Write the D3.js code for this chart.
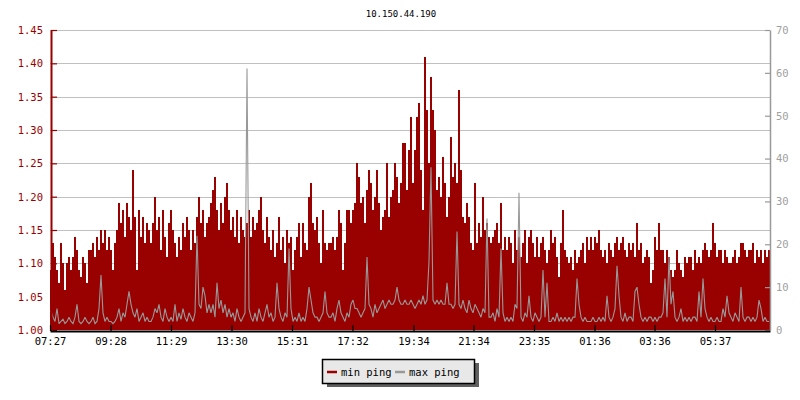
<!DOCTYPE html>
<html>
<head>
<meta charset="utf-8">
<script src="https://cdn.jsdelivr.net/npm/d3@7"></script>
<style>
  html, body { margin: 0; padding: 0; background: #fff; }
  svg { display: block; }
  text { font-family: "DejaVu Sans Mono", "Liberation Mono", monospace; }
</style>
</head>
<body>
<svg id="chart" width="800" height="400"></svg>
<script>
// ---- data ----
const title = "10.150.44.190";
const startTime = "07:27";
const stepMinutes = 4;
const xTickLabels = ["07:27","09:28","11:29","13:30","15:31","17:32","19:34","21:34","23:35","01:36","03:36","05:37"];
const leftTicks = [1.00,1.05,1.10,1.15,1.20,1.25,1.30,1.35,1.40,1.45];
const rightTicks = [0,10,20,30,40,50,60,70];
const seriesNames = ["min ping", "max ping"];

// min ping (left axis, ms)
const minPing = [
1.09,1.13,1.11,1.09,1.07,1.13,1.10,1.06,1.10,1.11,
1.09,1.11,1.14,1.12,1.09,1.08,1.11,1.10,1.07,1.12,
1.12,1.13,1.11,1.14,1.12,1.15,1.13,1.15,1.12,1.14,
1.12,1.09,1.13,1.15,1.19,1.16,1.18,1.14,1.19,1.17,
1.15,1.24,1.17,1.09,1.18,1.14,1.17,1.13,1.16,1.15,
1.13,1.16,1.20,1.15,1.17,1.12,1.18,1.14,1.11,1.16,
1.18,1.15,1.13,1.11,1.14,1.12,1.16,1.14,1.17,1.15,
1.12,1.15,1.13,1.17,1.20,1.16,1.18,1.14,1.16,1.17,
1.19,1.21,1.23,1.18,1.15,1.19,1.16,1.20,1.22,1.18,
1.15,1.17,1.14,1.18,1.13,1.17,1.15,1.14,1.16,1.18,
1.14,1.17,1.15,1.16,1.18,1.20,1.15,1.13,1.17,1.14,
1.12,1.15,1.11,1.13,1.17,1.12,1.14,1.10,1.15,1.13,
1.14,1.09,1.12,1.14,1.16,1.11,1.16,1.13,1.12,1.20,
1.22,1.16,1.15,1.17,1.13,1.10,1.18,1.13,1.12,1.13,
1.13,1.14,1.12,1.14,1.18,1.16,1.09,1.13,1.18,1.18,
1.16,1.18,1.19,1.25,1.23,1.19,1.20,1.16,1.21,1.24,
1.22,1.18,1.20,1.24,1.19,1.15,1.17,1.18,1.25,1.17,
1.20,1.21,1.25,1.23,1.19,1.22,1.28,1.28,1.21,1.27,
1.32,1.22,1.27,1.32,1.34,1.24,1.18,1.41,1.33,1.25,
1.38,1.33,1.30,1.21,1.23,1.20,1.26,1.22,1.17,1.20,
1.29,1.23,1.25,1.22,1.36,1.24,1.17,1.16,1.19,1.17,
1.13,1.12,1.22,1.13,1.16,1.14,1.20,1.15,1.16,1.14,
1.13,1.14,1.15,1.16,1.13,1.19,1.12,1.14,1.12,1.14,
1.13,1.10,1.15,1.12,1.14,1.11,1.13,1.15,1.10,1.14,
1.15,1.13,1.11,1.14,1.11,1.13,1.14,1.12,1.10,1.12,
1.15,1.13,1.14,1.11,1.08,1.13,1.18,1.12,1.11,1.10,
1.11,1.09,1.12,1.10,1.11,1.12,1.13,1.10,1.14,1.12,
1.14,1.12,1.14,1.13,1.15,1.12,1.11,1.12,1.10,1.13,
1.12,1.11,1.13,1.14,1.12,1.13,1.14,1.12,1.11,1.13,
1.12,1.13,1.11,1.16,1.12,1.13,1.10,1.11,1.12,1.11,
1.07,1.09,1.14,1.12,1.16,1.12,1.12,1.10,1.12,1.11,
1.09,1.08,1.09,1.12,1.10,1.09,1.08,1.11,1.10,1.11,
1.11,1.09,1.12,1.10,1.11,1.10,1.12,1.13,1.12,1.11,
1.12,1.16,1.13,1.11,1.12,1.12,1.10,1.12,1.11,1.10,
1.10,1.11,1.12,1.10,1.11,1.13,1.13,1.12,1.11,1.12,
1.12,1.13,1.10,1.12,1.11,1.12,1.10,1.12,1.11,1.12
];

// max ping (right axis, ms)
const maxPing = [
4.5,3,2,5,1.5,2,2.5,1.5,2,3,
2,1.5,3,6,2,1.5,2,3,2,1.5,
2,3,1.5,2,5,12.8,4,2,3,2,
2,1.5,2,3,5,2,4,3,6,9,
6,4,3,5,2,3,4,2,3,2,
2,3,5,4,6,3,2,5,3,2,
3,2,6,2,4,2.5,5,3,2,4,
3,2,4,22,6,5,10,8,4,6,
4,6,3,11,5,7,4,6,3,5,
3,4,2,5,3,2,3,4,61,5,
3,2,4,2,5,3,2,4,6,3,
4,2,3,11,5,3,2,4,3,19,
5,2,3,2,4,2,3,2,5,10,
7,4,3,3,2,3,4,9,4,3,
3,4,2,5,7,4,3,2,4,3,
6,7,5,5,4,3,4,5,17,6,
5,3,6,4,5,6,7,5,6,7,
6,6,7,10,7,6,6,7,6,6,
7,6,5,6,7,6,8,6,7,16,
38,7,6,7,6,7,6,6,11,6,
6,5,6,23,6,5,7,5,4,7,
5,4,6,5,4,3,5,4,26,3,
3,4,2,5,3,19,4,2,3,2,
3,2,6,5,32,3,2,4,3,8,
3,2,4,3,2,3,14,3,11,2,
2,3,2,4,2,3,2,3,2,3,
2,3,3,12,6,3,2,3,2,2,
2,3,2,2,3,2,3,2,8,3,
2,3,5,15,8,3,2,4,2,3,
3,2,9,10,6,3,2,3,2,3,
3,2,3,2,3,3,4,12,3,17,
6,9,3,2,3,5,2,3,2,3,
2,3,3,2,9,3,12,5,3,2,
3,2,2,3,2,2,5,3,8,4,
3,2,4,3,2,10,3,2,3,3,
2,3,2,3,7,5,2,3,2,2
];

// ---- chart ----
const plot = {left: 50, right: 770, top: 30, bottom: 330};
const red = "#990000", grey = "#999999";

const svg = d3.select("#chart");
const base = new Date(2020, 0, 1);
function parseHM(s, dayOffset) {
  const [h, m] = s.split(":").map(Number);
  return new Date(base.getFullYear(), base.getMonth(), base.getDate() + dayOffset, h, m);
}
const t0 = parseHM(startTime, 0);
const t1 = new Date(t0.getTime() + 24 * 3600 * 1000);
const tickDates = xTickLabels.map(s => {
  let d = parseHM(s, 0);
  if (d < t0) d = parseHM(s, 1);
  return d;
});

const x = d3.scaleTime().domain([t0, t1]).range([plot.left, plot.right]);
const yL = d3.scaleLinear().domain([1.0, 1.45]).range([plot.bottom, plot.top]);
const yR = d3.scaleLinear().domain([0, 70]).range([plot.bottom, plot.top]);

const timeAt = i => new Date(t0.getTime() + i * stepMinutes * 60000);
const redData = minPing.map((v, i) => ({t: timeAt(i), v}));
redData.push({t: t1, v: minPing[minPing.length - 1]});
// grey samples placed at the middle of each interval
const greyData = maxPing.map((v, i) => ({t: new Date(timeAt(i).getTime() + stepMinutes * 30000), v}));

// title
svg.append("text").attr("x", 401).attr("y", 17).attr("text-anchor", "middle")
  .attr("font-size", 9).attr("fill", "#000").text(title);

// grid
svg.append("g").selectAll("line").data(leftTicks.filter(d => d > 1.0)).join("line")
  .attr("x1", plot.left).attr("x2", plot.right)
  .attr("y1", d => Math.round(yL(d)) + 0.5).attr("y2", d => Math.round(yL(d)) + 0.5)
  .attr("stroke", "#c0c0c0").attr("stroke-width", 1).attr("shape-rendering", "crispEdges");

// red area
svg.append("path").datum(redData)
  .attr("d", d3.area().curve(d3.curveStepAfter).x(d => x(d.t)).y0(plot.bottom).y1(d => yL(d.v)))
  .attr("fill", red).attr("shape-rendering", "crispEdges");

// grey line
svg.append("path").datum(greyData)
  .attr("d", d3.line().x(d => x(d.t)).y(d => yR(d.v)))
  .attr("fill", "none").attr("stroke", grey).attr("stroke-width", 1.1)
  .attr("stroke-linejoin", "miter").attr("stroke-miterlimit", 2);

// left axis
const minorL = d3.range(100, 146).map(d => d / 100).filter(d => Math.round(d * 100) % 5 !== 0);
const gL = svg.append("g").attr("transform", `translate(${plot.left + 1},0)`);
gL.call(d3.axisLeft(yL).tickValues(minorL).tickSize(-3.5).tickFormat(""));
gL.call(d3.axisLeft(yL).tickValues(leftTicks).tickSizeInner(-6).tickSizeOuter(0).tickPadding(8).tickFormat(d3.format(".2f")));
gL.selectAll("path.domain").attr("stroke", red).attr("stroke-width", 2);
gL.selectAll("line").attr("stroke", red).attr("stroke-width", 1.2);
gL.selectAll("text").attr("fill", red).attr("font-size", 10.5).attr("font-family", "DejaVu Sans Mono");

// right axis
const minorR = d3.range(5, 70, 10);
const gR = svg.append("g").attr("transform", `translate(${plot.right},0)`);
gR.call(d3.axisRight(yR).tickValues(minorR).tickSize(-3.5).tickFormat(""));
gR.call(d3.axisRight(yR).tickValues(rightTicks).tickSizeInner(-5).tickSizeOuter(0).tickPadding(6).tickFormat(d3.format("d")));
gR.selectAll("path.domain").attr("stroke", grey).attr("stroke-width", 1.5);
gR.selectAll("line").attr("stroke", grey).attr("stroke-width", 1.2);
gR.selectAll("text").attr("fill", "#a0a0a0").attr("font-size", 10.5).attr("font-family", "DejaVu Sans Mono");

// x axis
const gX = svg.append("g").attr("transform", `translate(0,${plot.bottom + 1})`);
gX.call(d3.axisBottom(x).tickValues(tickDates).tickSizeInner(-6).tickSizeOuter(0).tickPadding(7)
  .tickFormat((d, i) => xTickLabels[i]));
gX.selectAll("path.domain").attr("stroke", "#000").attr("stroke-width", 2);
gX.selectAll("line").attr("stroke", "#000").attr("stroke-width", 1.2);
gX.selectAll("text").attr("fill", "#000").attr("font-size", 10.5).attr("font-family", "DejaVu Sans Mono");

// legend
const lg = svg.append("g");
lg.append("rect").attr("x", 327).attr("y", 363).attr("width", 152).attr("height", 24).attr("fill", "#606060");
lg.append("rect").attr("x", 322.5).attr("y", 359.5).attr("width", 152).attr("height", 24)
  .attr("fill", "#e8e8e8").attr("stroke", "#000").attr("stroke-width", 1.5);
const items = [
  {name: seriesNames[0], color: red, x: 327},
  {name: seriesNames[1], color: grey, x: 395}
];
items.forEach(it => {
  lg.append("line").attr("x1", it.x).attr("x2", it.x + 10).attr("y1", 372).attr("y2", 372)
    .attr("stroke", it.color).attr("stroke-width", 2.5);
  lg.append("text").attr("x", it.x + 14).attr("y", 375.5).attr("font-size", 10.5)
    .attr("fill", "#000").text(it.name);
});
</script>
</body>
</html>
